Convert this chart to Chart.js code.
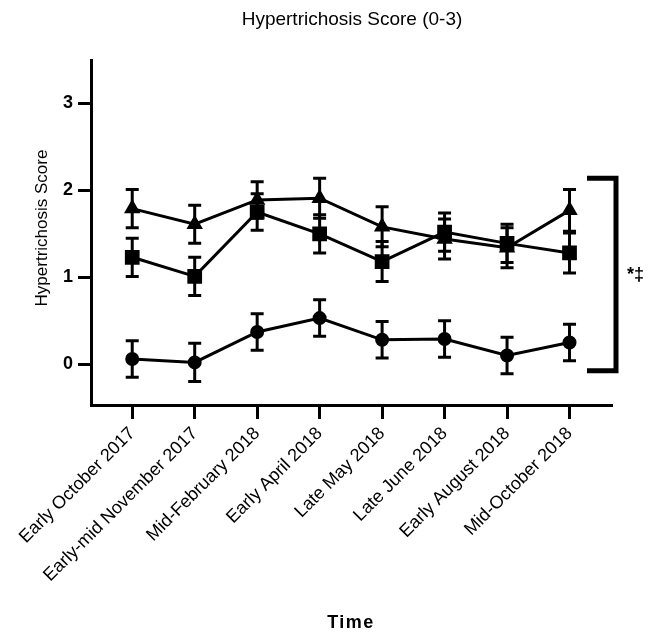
<!DOCTYPE html>
<html>
<head>
<meta charset="utf-8">
<script src="https://cdn.jsdelivr.net/npm/chart.js@4"></script>
<style>
  html, body { margin: 0; padding: 0; background: #fff; }
  #wrap { width: 654px; height: 635px; }
</style>
</head>
<body>
<div id="wrap"><canvas id="chart" width="654" height="635"></canvas></div>
<script>
const timeLabels = ['Early October 2017', 'Early-mid November 2017', 'Mid-February 2018', 'Early April 2018',
    'Late May 2018', 'Late June 2018', 'Early August 2018', 'Mid-October 2018'];
const yTicks = [0, 1, 2, 3];

const circleMeans = [0.06, 0.02, 0.37, 0.53, 0.28, 0.29, 0.10, 0.25];
const circleErr = [0.21, 0.22, 0.21, 0.21, 0.21, 0.21, 0.21, 0.21];
const squareMeans = [1.23, 1.01, 1.75, 1.50, 1.18, 1.52, 1.39, 1.28];
const squareErr = [0.22, 0.22, 0.21, 0.22, 0.23, 0.22, 0.22, 0.23];
const triangleMeans = [1.79, 1.61, 1.89, 1.91, 1.58, 1.44, 1.34, 1.77];
const triangleErr = [0.22, 0.22, 0.21, 0.23, 0.23, 0.23, 0.23, 0.24];

// bracket spans from the top of the upper groups to the bottom of the lowest one
const bracketTop = 2.14;
const bracketBottom = -0.075;
const bracketText = '*‡';

const FONT = "'Liberation Sans', Arial, sans-serif";

function points(means) {
    return means.map((v, i) => ({ x: i, y: v }));
}

function series(label, means, errs, style, radius) {
    return {
        label: label,
        data: points(means),
        errs: errs,
        borderColor: '#000',
        backgroundColor: '#000',
        borderWidth: 3,
        pointStyle: style,
        pointRadius: radius,
        pointBorderWidth: 2,
        pointBackgroundColor: '#000',
        pointBorderColor: '#000',
        tension: 0,
        fill: false
    };
}

// error bars, drawn with the chart's own scales
const errorBars = {
    id: 'errorBars',
    beforeDatasetsDraw(chart) {
        const ctx = chart.ctx;
        const xs = chart.scales.x, ys = chart.scales.y;
        ctx.save();
        ctx.strokeStyle = '#000';
        ctx.lineWidth = 3;
        chart.data.datasets.forEach(ds => {
            ds.data.forEach((p, i) => {
                const x = xs.getPixelForValue(p.x);
                const top = ys.getPixelForValue(p.y + ds.errs[i]);
                const bot = ys.getPixelForValue(p.y - ds.errs[i]);
                ctx.beginPath();
                ctx.moveTo(x, top); ctx.lineTo(x, bot);
                ctx.moveTo(x - 6.5, top); ctx.lineTo(x + 6.5, top);
                ctx.moveTo(x - 6.5, bot); ctx.lineTo(x + 6.5, bot);
                ctx.stroke();
            });
        });
        ctx.restore();
    }
};

// titles and the significance bracket
const extras = {
    id: 'extras',
    afterDraw(chart) {
        const ctx = chart.ctx;
        const area = chart.chartArea;
        const ys = chart.scales.y;
        ctx.save();
        ctx.fillStyle = '#000';
        ctx.textAlign = 'center';
        ctx.textBaseline = 'middle';

        ctx.font = '19px ' + FONT;
        ctx.fillText('Hypertrichosis Score (0-3)', 352, 20);

        ctx.save();
        ctx.translate(42, 228);
        ctx.rotate(-Math.PI / 2);
        ctx.font = '17px ' + FONT;
        ctx.fillText('Hypertrichosis Score', 0, 0);
        ctx.restore();

        ctx.font = 'bold 18px ' + FONT;
        ctx.letterSpacing = '1.5px';
        ctx.fillText('Time', 351, 623);
        ctx.letterSpacing = '0px';

        const yT = ys.getPixelForValue(bracketTop);
        const yB = ys.getPixelForValue(bracketBottom);
        const xR = area.right + 4;
        ctx.strokeStyle = '#000';
        ctx.lineWidth = 5;
        ctx.lineJoin = 'miter';
        ctx.beginPath();
        ctx.moveTo(area.right - 25, yT);
        ctx.lineTo(xR, yT);
        ctx.lineTo(xR, yB);
        ctx.lineTo(area.right - 25, yB);
        ctx.stroke();

        ctx.font = 'bold 18px ' + FONT;
        ctx.textAlign = 'left';
        ctx.fillText(bracketText, xR + 11, ys.getPixelForValue((bracketTop + bracketBottom) / 2) + 1);
        ctx.restore();
    }
};

const ctx = document.getElementById('chart').getContext('2d');
const chart = new Chart(ctx, {
    type: 'line',
    data: {
        datasets: [
            series('Group 1', circleMeans, circleErr, 'circle', 6),
            series('Group 2', squareMeans, squareErr, 'rect', 9),
            series('Group 3', triangleMeans, triangleErr, 'triangle', 7.5)
        ]
    },
    options: {
        responsive: false,
        animation: false,
        events: [],
        layout: { padding: { left: 0, right: 42, top: 60, bottom: 0 } },
        plugins: {
            legend: { display: false },
            title: { display: false },
            tooltip: { enabled: false }
        },
        scales: {
            x: {
                type: 'linear',
                min: -0.66,
                max: 7.68,
                afterBuildTicks: scale => {
                    scale.ticks = timeLabels.map((_, i) => ({ value: i }));
                },
                afterFit: scale => { scale.height = 230; },
                border: { display: true, color: '#000', width: 3 },
                grid: {
                    drawOnChartArea: false,
                    drawTicks: true,
                    tickLength: 14,
                    tickWidth: 3,
                    tickColor: '#000'
                },
                ticks: {
                    autoSkip: false,
                    maxRotation: 45,
                    minRotation: 45,
                    padding: 4,
                    color: '#000',
                    font: { family: FONT, size: 18 },
                    callback: v => timeLabels[v]
                }
            },
            y: {
                min: -0.47,
                max: 3.5,
                afterBuildTicks: scale => {
                    scale.ticks = yTicks.map(v => ({ value: v }));
                },
                afterFit: scale => { scale.width = 91; },
                border: { display: true, color: '#000', width: 3 },
                grid: {
                    drawOnChartArea: false,
                    drawTicks: true,
                    tickLength: 13,
                    tickWidth: 3,
                    tickColor: '#000'
                },
                ticks: {
                    padding: 5,
                    color: '#000',
                    font: { family: FONT, size: 18, weight: 'bold' }
                }
            }
        }
    },
    plugins: [errorBars, extras]
});
</script>
</body>
</html>
